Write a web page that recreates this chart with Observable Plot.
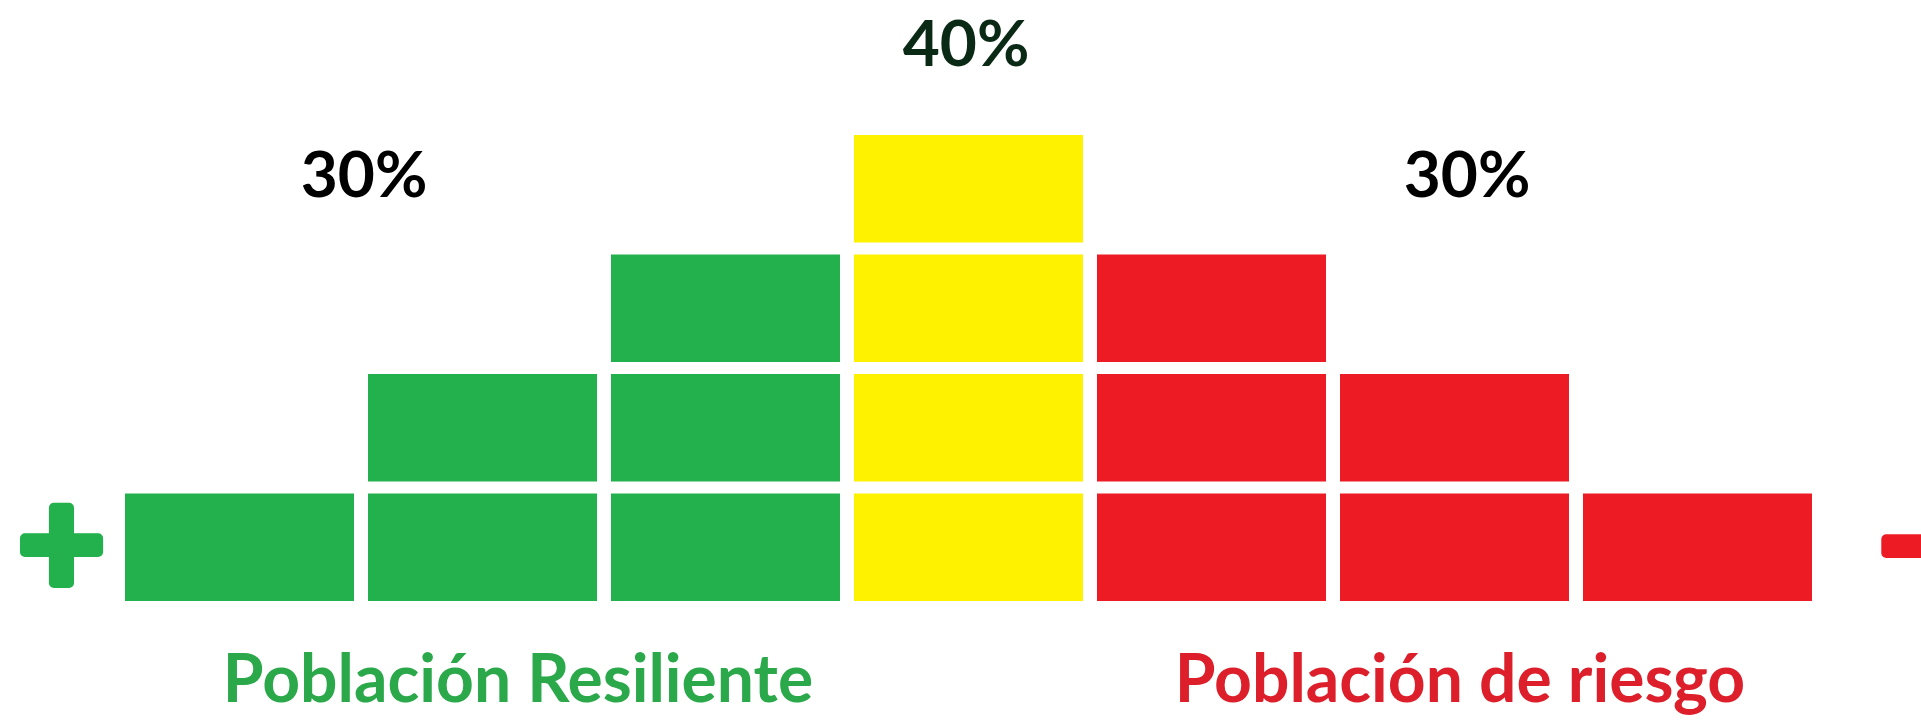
<!DOCTYPE html>
<html>
<head>
<meta charset="utf-8">
<script src="https://cdn.jsdelivr.net/npm/d3@7"></script>
<script src="https://cdn.jsdelivr.net/npm/@observablehq/plot@0.6"></script>
<style>
  html, body { margin: 0; padding: 0; background: #ffffff; overflow: hidden; }
  svg { display: block; }
</style>
</head>
<body>
<div id="chart"></div>
<script>
// ---- data ----
const columns = [1, 2, 3, 4, 5, 6, 7];
const counts  = [1, 2, 3, 4, 3, 2, 1];
const columnGroup = ["resiliente", "resiliente", "resiliente", "media", "riesgo", "riesgo", "riesgo"];
const groups = ["resiliente", "media", "riesgo"];
const groupPercent = ["30%", "40%", "30%"];
const groupName = ["Población Resiliente", "", "Población de riesgo"];
const groupColor = ["#22b14c", "#fff200", "#ed1c24"];
const textColor = ["#000000", "#0b2a16", "#000000"];
const nameColor = ["#2aa84a", "#000000", "#dc1f2a"];

// ---- derived tables ----
const cells = columns.flatMap((c, i) =>
  d3.range(counts[i]).map(k => ({col: c, level: k, group: columnGroup[i]})));

const groupRows = groups.map((g, gi) => {
  const cols = columns.filter((c, i) => columnGroup[i] === g);
  const tops = columns.map((c, i) => columnGroup[i] === g ? counts[i] : 0);
  return {
    group: g,
    mid: d3.mean(cols),
    top: d3.max(tops),
    pct: groupPercent[gi],
    name: groupName[gi],
    pctColor: textColor[gi],
    nameColor: nameColor[gi]
  };
});

// layout tweaks (pixels)
const pctDx = {resiliente: -119, media: -3, riesgo: 12};
const pctDy = {resiliente: -72, media: -84, riesgo: -72};
const nameDx = {resiliente: 35, media: 0, riesgo: 5};

const FONT = "Lato, 'Open Sans', sans-serif";

const chart = Plot.plot({
  width: 1921,
  height: 721,
  marginLeft: 118,
  marginRight: 102,
  marginTop: 129,
  marginBottom: 114,
  style: {background: "#ffffff", fontFamily: FONT},
  x: {domain: [0.5, 7.5], axis: null},
  y: {domain: [0, 4], axis: null},
  color: {domain: groups, range: groupColor},
  marks: [
    Plot.rect(cells, {
      x1: d => d.col - 0.5,
      x2: d => d.col + 0.5,
      y1: d => d.level,
      y2: d => d.level + 1,
      fill: "group",
      insetLeft: 7,
      insetRight: 7,
      insetTop: 6,
      insetBottom: 6
    }),
    // percentages above each group
    Plot.text(groupRows, {
      x: "mid",
      y: "top",
      text: "pct",
      fill: "pctColor",
      fontSize: 64,
      fontWeight: "bold",
      fontFamily: FONT
    }),
    // group names below
    Plot.text(groupRows.filter(d => d.name), {
      x: "mid",
      y: () => 0,
      text: "name",
      fill: "nameColor",
      fontSize: 66,
      fontWeight: "bold",
      fontFamily: FONT
    }),
    // plus and minus signs
    Plot.text(["+"], {
      text: d => d,
      frameAnchor: "bottom-left",
      dx: -57, dy: -12,
      textAnchor: "middle",
      fill: groupColor[0],
      stroke: groupColor[0],
      strokeWidth: 10,
      strokeLinejoin: "round",
      fontSize: 150,
      fontWeight: "bold",
      fontFamily: FONT
    }),
    Plot.text(["\u2212"], {
      text: d => d,
      frameAnchor: "bottom-right",
      dx: 100, dy: -12,
      textAnchor: "middle",
      fill: groupColor[2],
      stroke: groupColor[2],
      strokeWidth: 10,
      strokeLinejoin: "round",
      fontSize: 150,
      fontWeight: "bold",
      fontFamily: FONT
    })
  ]
});

// per-group pixel offsets for the text labels
const textGroups = chart.querySelectorAll("g[aria-label='text']");
if (textGroups[0]) {
  textGroups[0].querySelectorAll("text").forEach((t, i) => {
    const g = groupRows[i].group;
    t.setAttribute("transform", (t.getAttribute("transform") || "") + ` translate(${pctDx[g]},${pctDy[g]})`);
  });
}
if (textGroups[1]) {
  const named = groupRows.filter(d => d.name);
  textGroups[1].querySelectorAll("text").forEach((t, i) => {
    const g = named[i].group;
    t.setAttribute("transform", (t.getAttribute("transform") || "") + ` translate(${nameDx[g]},73)`);
  });
}

document.getElementById("chart").appendChild(chart);
</script>
</body>
</html>
